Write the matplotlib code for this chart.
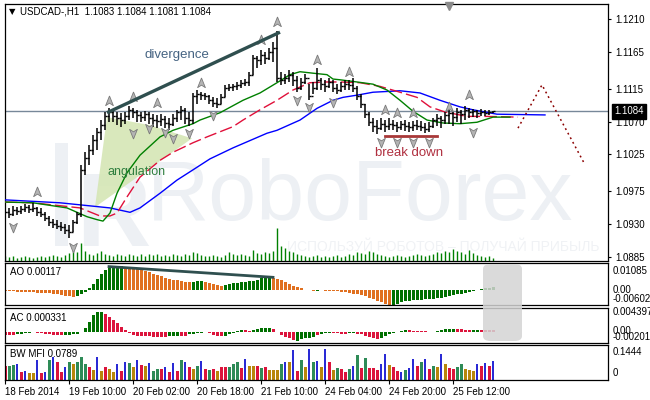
import numpy as np
import matplotlib.pyplot as plt
from matplotlib.patches import Polygon, FancyBboxPatch, Rectangle
from matplotlib.path import Path

plt.rcParams['font.family'] = ['Liberation Sans', 'DejaVu Sans']

W, H = 650, 400

# --- USDCAD H1 bars ---
highs = [
    1.0953, 1.0952, 1.0955, 1.0953, 1.0955, 1.0957, 1.0956, 1.0959, 1.0953, 1.0952,
    1.0946, 1.0941, 1.0937, 1.0936, 1.0933, 1.0930, 1.0929, 1.0936, 1.0946, 1.1011,
    1.1028, 1.1038, 1.1052, 1.1061, 1.1072, 1.1083, 1.1088, 1.1086, 1.1083, 1.1082,
    1.1083, 1.1091, 1.1088, 1.1086, 1.1083, 1.1084, 1.1083, 1.1080, 1.1079, 1.1080,
    1.1078, 1.1075, 1.1080, 1.1086, 1.1091, 1.1088, 1.1083, 1.1109, 1.1113, 1.1110,
    1.1109, 1.1106, 1.1103, 1.1102, 1.1108, 1.1120, 1.1121, 1.1121, 1.1124, 1.1127,
    1.1128, 1.1138, 1.1161, 1.1159, 1.1168, 1.1165, 1.1170, 1.1179, 1.1194, 1.1138,
    1.1135, 1.1140, 1.1138, 1.1132, 1.1129, 1.1135, 1.1121, 1.1124, 1.1143, 1.1129,
    1.1127, 1.1129, 1.1127, 1.1121, 1.1124, 1.1127, 1.1127, 1.1129, 1.1118, 1.1108,
    1.1094, 1.1083, 1.1075, 1.1072, 1.1075, 1.1072, 1.1075, 1.1072, 1.1069, 1.1071,
    1.1072, 1.1069, 1.1071, 1.1072, 1.1071, 1.1068, 1.1069, 1.1075, 1.1080, 1.1078,
    1.1083, 1.1086, 1.1083, 1.1088, 1.1086, 1.1091, 1.1088, 1.1087, 1.1086, 1.1087,
    1.1086, 1.1086, 1.1084]
lows = [
    1.0940, 1.0938, 1.0941, 1.0942, 1.0944, 1.0946, 1.0945, 1.0946, 1.0941, 1.0940,
    1.0934, 1.0927, 1.0925, 1.0923, 1.0920, 1.0916, 1.0911, 1.0919, 1.0930, 1.0940,
    1.0997, 1.1011, 1.1024, 1.1031, 1.1045, 1.1058, 1.1069, 1.1069, 1.1065, 1.1063,
    1.1067, 1.1072, 1.1075, 1.1069, 1.1069, 1.1071, 1.1067, 1.1063, 1.1061, 1.1064,
    1.1061, 1.1058, 1.1064, 1.1069, 1.1072, 1.1067, 1.1064, 1.1067, 1.1094, 1.1099,
    1.1099, 1.1094, 1.1090, 1.1088, 1.1094, 1.1103, 1.1112, 1.1112, 1.1113, 1.1116,
    1.1118, 1.1118, 1.1134, 1.1143, 1.1147, 1.1149, 1.1154, 1.1151, 1.1124, 1.1120,
    1.1121, 1.1124, 1.1118, 1.1110, 1.1113, 1.1121, 1.1099, 1.1108, 1.1113, 1.1113,
    1.1110, 1.1116, 1.1110, 1.1108, 1.1110, 1.1113, 1.1113, 1.1110, 1.1099, 1.1088,
    1.1075, 1.1064, 1.1056, 1.1053, 1.1058, 1.1056, 1.1058, 1.1058, 1.1056, 1.1058,
    1.1057, 1.1056, 1.1057, 1.1058, 1.1057, 1.1054, 1.1056, 1.1061, 1.1064, 1.1061,
    1.1067, 1.1067, 1.1064, 1.1069, 1.1067, 1.1072, 1.1075, 1.1076, 1.1075, 1.1078,
    1.1078, 1.1079, 1.1081]
closes = [
    1.0946, 1.0944, 1.0949, 1.0948, 1.0951, 1.0953, 1.0951, 1.0952, 1.0946, 1.0944,
    1.0938, 1.0933, 1.0930, 1.0927, 1.0926, 1.0922, 1.0919, 1.0933, 1.0944, 1.1004,
    1.1020, 1.1031, 1.1045, 1.1056, 1.1065, 1.1078, 1.1083, 1.1078, 1.1075, 1.1072,
    1.1078, 1.1086, 1.1083, 1.1079, 1.1076, 1.1080, 1.1075, 1.1072, 1.1071, 1.1073,
    1.1068, 1.1067, 1.1075, 1.1083, 1.1086, 1.1075, 1.1072, 1.1105, 1.1108, 1.1106,
    1.1105, 1.1099, 1.1095, 1.1094, 1.1103, 1.1116, 1.1117, 1.1118, 1.1120, 1.1123,
    1.1124, 1.1134, 1.1157, 1.1154, 1.1161, 1.1157, 1.1165, 1.1170, 1.1129, 1.1127,
    1.1129, 1.1134, 1.1127, 1.1116, 1.1124, 1.1129, 1.1105, 1.1116, 1.1127, 1.1121,
    1.1118, 1.1124, 1.1116, 1.1113, 1.1118, 1.1121, 1.1120, 1.1116, 1.1105, 1.1094,
    1.1080, 1.1069, 1.1064, 1.1061, 1.1067, 1.1064, 1.1067, 1.1065, 1.1063, 1.1067,
    1.1064, 1.1063, 1.1065, 1.1064, 1.1063, 1.1060, 1.1064, 1.1072, 1.1075, 1.1072,
    1.1079, 1.1082, 1.1076, 1.1083, 1.1080, 1.1086, 1.1083, 1.1084, 1.1082, 1.1083,
    1.1082, 1.1083, 1.1084]
first_open = 1.0950
last_price = 1.1084

volumes = [
    500, 400, 500, 300, 400, 500, 400, 300, 400, 500, 400, 500, 600, 500, 400, 600, 800, 1200, 900,
    1800, 1000, 700, 600, 800, 1000, 700, 600, 500, 700, 600, 500,
    700, 600, 500, 700, 500, 700, 600, 700, 500, 600, 500, 700, 600, 500, 700, 600, 900, 800, 600, 500,
    500, 600, 500, 400, 600, 900, 700, 600, 700, 600, 500, 1100, 800, 700, 900, 800, 1000,
    3300,
    1500, 1300, 1000, 900, 700, 600, 500, 400, 500, 600, 400, 500,
    400, 500, 600, 400, 500, 700, 600, 900, 800, 700, 1000, 900, 700, 600, 500, 400, 500, 600, 500, 400,
    500, 600, 700, 600, 500, 600, 700, 900, 800, 1000, 900, 1200, 1000, 900, 700, 1100, 800, 600, 500,
    400, 500, 300]

# Alligator lines (bar index, price)
jaw_x = [0, 13.75, 26.25, 31.25, 33.75, 38.75, 43, 47, 51.25, 57, 65.5, 68, 73.75, 78, 82,
         84.5, 88, 92, 98.75, 103.75, 108.75, 113.75, 117, 123, 135]
jaw_y = [1.0963, 1.0959, 1.0952, 1.0946, 1.0952, 1.0972, 1.0990, 1.1004, 1.1019, 1.1034,
         1.1054, 1.1058, 1.1072, 1.1088, 1.1099, 1.1103, 1.1106, 1.1110, 1.1112, 1.1109,
         1.1099, 1.1090, 1.1086, 1.1080, 1.1079]
teeth_x = [0, 7, 13.75, 18.75, 23.75, 26.25, 28, 30.5, 33.75, 38.75, 42, 47, 50.5, 57, 59.5,
           63.75, 68, 72, 76.25, 80.5, 83.75, 88.75, 93.75, 98.75, 103, 106.25, 110, 115.5,
           120.5, 128.25]
teeth_y = [1.0960, 1.0959, 1.0955, 1.0952, 1.0941, 1.0941, 1.0945, 1.0967, 1.0994, 1.1017,
           1.1028, 1.1041, 1.1049, 1.1063, 1.1072, 1.1086, 1.1099, 1.1113, 1.1123, 1.1124,
           1.1124, 1.1123, 1.1118, 1.1110, 1.1103, 1.1090, 1.1083, 1.1077, 1.1077, 1.1076]
lips_x = [0, 7, 15.5, 20.5, 23, 24.5, 26.25, 28, 30.5, 33.75, 38.75, 42, 47, 48.75, 53.75,
          59.5, 63.75, 68, 71.25, 73.75, 77, 80.5, 82, 83.75, 88, 92, 95.5, 98.75, 102,
          105.5, 109.5, 113.75, 118, 122, 126.25]
lips_y = [1.0960, 1.0959, 1.0952, 1.0940, 1.0936, 1.0934, 1.0945, 1.0972, 1.1000, 1.1024,
          1.1049, 1.1058, 1.1067, 1.1072, 1.1082, 1.1099, 1.1109, 1.1123, 1.1134, 1.1138,
          1.1136, 1.1134, 1.1128, 1.1127, 1.1124, 1.1121, 1.1113, 1.1099, 1.1084, 1.1072,
          1.1068, 1.1067, 1.1069, 1.1076, 1.1076]

# Fractals (bar index, arrow price)
frac_up_x = [8, 26, 32, 38, 49, 64, 68, 78, 86, 95, 98, 102, 111, 116]
frac_up_y = [1.0974, 1.1098, 1.1103, 1.1095, 1.1123, 1.1181, 1.1206, 1.1154, 1.1138,
             1.1086, 1.1082, 1.1082, 1.1090, 1.1106]
frac_dn_x = [2, 17, 32, 36, 40, 42, 46, 52, 73, 76, 82, 94, 98, 102, 106, 117]
frac_dn_y = [1.0926, 1.0899, 1.1054, 1.1061, 1.1056, 1.1048, 1.1054, 1.1079, 1.1099,
             1.1090, 1.1097, 1.1042, 1.1042, 1.1042, 1.1042, 1.1056]

# Awesome Oscillator
ao = [
    -0.0004, -0.0004, -0.0005, -0.0007, -0.0008, -0.0008, -0.0009, -0.0009, -0.0011, -0.0011,
    -0.0012, -0.0013, -0.0016, -0.0017, -0.0020, -0.0023, -0.0025, -0.0028, -0.0023, -0.0017,
    -0.0007, 0.0007, 0.0023, 0.0044, 0.0063, 0.0080, 0.0090, 0.0094, 0.0095, 0.0095,
    0.0092, 0.0090, 0.0088, 0.0086, 0.0082, 0.0078, 0.0071, 0.0066, 0.0060, 0.0055,
    0.0050, 0.0044, 0.0042, 0.0039, 0.0036, 0.0034, 0.0031, 0.0034, 0.0036, 0.0036,
    0.0034, 0.0028, 0.0024, 0.0020, 0.0017, 0.0020, 0.0024, 0.0027, 0.0029, 0.0031,
    0.0032, 0.0035, 0.0038, 0.0042, 0.0047, 0.0050, 0.0050, 0.0047, 0.0044, 0.0039,
    0.0031, 0.0023, 0.0017, 0.0012, 0.0007, 0.0001, -0.0001, -0.0003, -0.0004, -0.0001,
    -0.0003, -0.0004, -0.0004, -0.0005, -0.0007, -0.0009, -0.0012, -0.0015, -0.0017, -0.0021,
    -0.0025, -0.0031, -0.0036, -0.0043, -0.0050, -0.0055, -0.0059, -0.0060, -0.0055, -0.0050,
    -0.0046, -0.0043, -0.0042, -0.0040, -0.0039, -0.0038, -0.0036, -0.0035, -0.0034, -0.0031,
    -0.0028, -0.0025, -0.0021, -0.0017, -0.0015, -0.0012, -0.0008, -0.0005, -0.0001, 0.0004,
    0.0007, 0.0008, 0.00117]
ao_colors = ("oooooooooooooooooo" "gggggggggggg" "ooooooooooooooooo" "ggg" "ooooo"
             "gggggggggggg" "ooooooooo" "gogo" "ooooooooooooooooo" "gggggggggggggggggggggggggg")

# Accelerator Oscillator
ac = [
    -0.00055, -0.00055, -0.00055, -0.00043, -0.00031, -0.00018, -0.00012, -0.00006, -0.00012, -0.00018,
    -0.00031, -0.00037, -0.00055, -0.00055, -0.00061, -0.00055, -0.00049, -0.00043, -0.00031, -0.00006,
    0.00079, 0.00189, 0.00311, 0.00360, 0.00372, 0.00336, 0.00281, 0.00220, 0.00159, 0.00098,
    0.00037, -0.00024, -0.00055, -0.00067, -0.00067, -0.00073, -0.00079, -0.00085, -0.00092, -0.00092,
    -0.00092, -0.00079, -0.00079, -0.00073, -0.00079, -0.00079, -0.00043, -0.00031, -0.00018, -0.00012,
    -0.00006, -0.00018, -0.00055, -0.00073, -0.00079, -0.00073, -0.00043, -0.00012, 0.00018, 0.00043,
    0.00037, 0.00018, 0.00037, 0.00055, 0.00067, 0.00067, 0.00067, 0.00055, 0.00006, -0.00055,
    -0.00085, -0.00116, -0.00146, -0.00165, -0.00128, -0.00116, -0.00104, -0.00085, -0.00055, -0.00031,
    -0.00018, -0.00012, -0.00018, -0.00024, -0.00031, -0.00031, -0.00024, -0.00018, -0.00031, -0.00043,
    -0.00067, -0.00092, -0.00116, -0.00128, -0.00104, -0.00067, -0.00037, -0.00012, 0.00006, 0.00018,
    0.00031, 0.00028, 0.00025, 0.00022, 0.00018, 0.00012, 0.00006, 0.00003, 0.00018, 0.00031,
    0.00055, 0.00061, 0.00064, 0.00055, 0.00049, 0.00043, 0.00040, 0.00043, 0.00046, 0.00037,
    0.00034, 0.00036, 0.000331]
ac_colors = ("rrrggggrrrrrrrrggggggggggrrrrrrrrrrrrrrrrgggrrggggrrrrrgggggrrgggggrrrrrrgggggrgg"
             "grrrrggrrrrrrgggggggrrrrrrrgggggrrrrggrrrr")

# Market Facilitation Index
mfi = [
    0.059, 0.059, 0.062, 0.067, 0.034, 0.038, 0.028, 0.028, 0.084, 0.028,
    0.031, 0.081, 0.095, 0.074, 0.031, 0.052, 0.074, 0.067, 0.074, 0.095,
    0.067, 0.055, 0.042, 0.095, 0.038, 0.052, 0.045, 0.031, 0.067, 0.038,
    0.074, 0.071, 0.052, 0.081, 0.062, 0.057, 0.070, 0.038, 0.045, 0.045,
    0.052, 0.034, 0.070, 0.038, 0.081, 0.074, 0.052, 0.045, 0.059, 0.079,
    0.045, 0.040, 0.045, 0.038, 0.052, 0.052, 0.052, 0.067, 0.076, 0.048,
    0.088, 0.059, 0.059, 0.059, 0.048, 0.052, 0.042, 0.042, 0.042, 0.067,
    0.074, 0.074, 0.123, 0.038, 0.081, 0.055, 0.126, 0.074, 0.080, 0.055,
    0.126, 0.076, 0.042, 0.051, 0.045, 0.034, 0.045, 0.059, 0.102, 0.051,
    0.091, 0.051, 0.051, 0.040, 0.066, 0.106, 0.062, 0.055, 0.037, 0.034,
    0.042, 0.051, 0.085, 0.059, 0.076, 0.088, 0.045, 0.059, 0.052, 0.106,
    0.064, 0.051, 0.045, 0.055, 0.066, 0.045, 0.041, 0.038, 0.068, 0.059,
    0.072, 0.059, 0.0789]
mfi_colors = ("rggbrbyybr" "bgbrrbgygg" "grybyryybr" "bgybrybggr" "brbrgbrygb" "rgryrrgggr"
              "byyrgryyyg" "bybrgybgby" "brygrrgbgr" "grrrbbyrrb" "gbbrgbrgyb" "yrrggyyybr" "brb")

price_ticks = [1.1210, 1.1165, 1.1115, 1.1070, 1.1025, 1.0975, 1.0930, 1.0885]
time_pos = [0, 16, 32, 48, 64, 80, 96, 112]
time_labels = ['18 Feb 2014', '19 Feb 10:00', '20 Feb 02:00', '20 Feb 18:00',
               '21 Feb 10:00', '24 Feb 04:00', '24 Feb 20:00', '25 Feb 12:00']

XMAX = 150.75
WM = '#edf0f4'   # watermark colour
idx = np.arange(len(closes))
opens = [first_open] + closes[:-1]

fig = plt.figure(figsize=(6.5, 4), dpi=100)


def panel(x0, y0, x1, y1, face='white'):
    ax = fig.add_axes([x0 / W, 1 - y1 / H, (x1 - x0) / W, (y1 - y0) / H], facecolor=face)
    ax.set_xlim(0, XMAX)
    for s in ax.spines.values():
        s.set_linewidth(0.9)
    ax.tick_params(left=False, labelleft=False, bottom=False, labelbottom=False,
                   right=False, labelright=False)
    return ax


def side_label(ax, text, yval, down):
    # label on the right edge, shifted 'down' pixels below the value
    ax.annotate(text, xy=(1, yval), xycoords=('axes fraction', 'data'),
                xytext=(5, -down), textcoords='offset pixels', fontsize=7,
                va='center', ha='left', annotation_clip=False)


# ---------- main window ----------
bg = panel(5, 4, 608, 261)
bg.set_ylim(0, 25700)
bg.axis('off')
bg.set_zorder(0)
bg.text(0.235, 0.16, 'RoboForex', transform=bg.transAxes, fontsize=62,
        color=WM, ha='left', va='baseline')
bg.text(0.118, 0.06, 'R', transform=bg.transAxes, fontsize=74, fontweight='bold',
        color=WM, ha='left', va='baseline')
bg.add_patch(Rectangle((0.083, 0.06), 0.022, 0.40, transform=bg.transAxes,
                       color=WM, lw=0))
bg.text(0.726, 0.055, 'ИСПОЛЬЗУЙ РОБОТОВ – ПОЛУЧАЙ ПРИБЫЛЬ', transform=bg.transAxes,
        fontsize=10, color='#f0f2f5', ha='center', va='center')
bg.vlines(idx, 0, volumes, color='#008000', lw=1)

ax = panel(5, 4, 608, 261, face='none')
ax.set_zorder(1)
ax.set_ylim(1.08795, 1.12305)

# angulation wedge
ax.add_patch(Polygon([(22.5, 1.0953), (25.5, 1.1076), (36.25, 1.1065), (46.75, 1.1047)],
                     closed=True, facecolor='#d5e6b5', edgecolor='none', alpha=0.9, zorder=1))

ax.axhline(last_price, color='#778899', lw=1, zorder=2)

ax.plot(jaw_x, jaw_y, color='#0000ff', lw=1, zorder=3)
ax.plot(teeth_x, teeth_y, color='#e0103a', lw=1, dashes=(9, 3), zorder=3)
ax.plot(lips_x, lips_y, color='#008000', lw=1, zorder=3)

ax.vlines(idx, lows, highs, color='black', lw=1.1, zorder=4)
ax.hlines(opens, idx - 0.5, idx, color='black', lw=1, zorder=4)
ax.hlines(closes, idx, idx + 0.5, color='black', lw=1, zorder=4)

arrow_up = Path([(0, 1), (0.7, -0.75), (0, -0.3), (-0.7, -0.75), (0, 1)])
arrow_dn = Path([(0, -1), (0.7, 0.75), (0, 0.3), (-0.7, 0.75), (0, -1)])
ax.plot(frac_up_x, frac_up_y, ls='none', marker=arrow_up, ms=8, mfc='#b4b4b4',
        mec='#7a7a7a', mew=0.6, zorder=5)
ax.plot(frac_dn_x, frac_dn_y, ls='none', marker=arrow_dn, ms=8, mfc='#b4b4b4',
        mec='#7a7a7a', mew=0.6, zorder=5)

# chart shift marker at the top
ax.plot([111], [1.1228], marker='v', ms=6, color='#8a8a8a', zorder=6, clip_on=False)

# analysis drawings
ax.plot([25.5, 68.75], [1.1082, 1.1192], color='#2f4f4f', lw=2.4, zorder=6,
        solid_capstyle='butt')
ax.plot([95, 108], [1.1050, 1.1050], color='#a83838', lw=2, zorder=6)
ax.plot([128.25, 134.25, 145], [1.1061, 1.1120, 1.1011], color='#8b0000', lw=1.1,
        ls=(0, (1.2, 2.2)), zorder=6)
ax.text(43, 1.1161, 'divergence', fontsize=9.5, color='#456382', ha='center', va='center', zorder=7)
ax.text(33, 1.1001, 'angulation', fontsize=9, color='#2f7f3f', ha='center', va='center', zorder=7)
ax.text(101, 1.1027, 'break down', fontsize=9.5, color='#b03040', ha='center', va='center', zorder=7)

ax.yaxis.tick_right()
ax.set_yticks(price_ticks)
ax.set_yticklabels(['%.4f' % v for v in price_ticks])
ax.tick_params(right=True, labelright=True, labelsize=7, length=2.5, width=0.8, pad=2.5)
ax.annotate('%.4f' % last_price, xy=(1, last_price), xycoords=('axes fraction', 'data'),
            xytext=(6, 0), textcoords='offset pixels', fontsize=7, color='white',
            va='center', ha='left', annotation_clip=False, zorder=8,
            bbox=dict(boxstyle='square,pad=0.25', fc='black', ec='black'))

fig.text(9 / W, 1 - 12 / H, '▼', fontsize=6, va='center', ha='left', family='DejaVu Sans')
fig.text(20 / W, 1 - 12 / H, 'USDCAD-,H1  1.1083 1.1084 1.1081 1.1084', fontsize=7,
         va='center', ha='left')

# ---------- AO ----------
ao_ax = panel(5, 263, 608, 305)
ao_ax.set_ylim(-0.00602, 0.01085)
ao_ax.bar(idx, ao, width=0.75, color=['#e07020' if c == 'o' else '#007000' for c in ao_colors],
          linewidth=0)
ao_ax.plot([26, 67], [0.0094, 0.0051], color='#2f4f4f', lw=2, zorder=4)
side_label(ao_ax, '0.01085', 0.01085, 8)
side_label(ao_ax, '0.00', 0.0, 0)
side_label(ao_ax, '-0.00602', -0.00602, -6)
fig.text(10 / W, 1 - 272 / H, 'AO 0.00117', fontsize=7, va='center')

# ---------- AC ----------
ac_ax = panel(5, 308, 608, 343)
ac_ax.set_ylim(-0.00201, 0.004397)
ac_ax.bar(idx, ac, width=0.75, color=['#dc143c' if c == 'r' else '#007000' for c in ac_colors],
          linewidth=0)
side_label(ac_ax, '0.004397', 0.004397, 4)
side_label(ac_ax, '0.00', 0.0, -1)
side_label(ac_ax, '-0.00201', -0.00201, -6)
fig.text(10 / W, 1 - 318 / H, 'AC 0.000331', fontsize=7, va='center')

# ---------- BW MFI ----------
mfi_ax = panel(5, 345, 608, 380)
mfi_ax.set_ylim(0, 0.1444)
mfi_cmap = {'g': '#2e8b57', 'r': '#dc143c', 'y': '#b8860b', 'b': '#0000cd'}
for i, (v, c) in enumerate(zip(mfi, mfi_colors)):
    if c == 'b':
        mfi_ax.vlines(i, 0, v, color=mfi_cmap[c], lw=1.2)
    else:
        mfi_ax.bar(i, v, width=0.75, color=mfi_cmap[c], linewidth=0)
side_label(mfi_ax, '0.1444', 0.1444, 7)
side_label(mfi_ax, '0', 0.0, -7)
fig.text(10 / W, 1 - 354 / H, 'BW MFI 0.0789', fontsize=7, va='center')

mfi_ax.set_xticks(time_pos)
mfi_ax.set_xticklabels(time_labels, ha='left')
mfi_ax.tick_params(bottom=True, labelbottom=True, labelsize=7, length=3, width=0.8, pad=2)

# grey box over the oscillator windows
fig.add_artist(FancyBboxPatch((483 / W, 1 - 341 / H), 39 / W, 77 / H,
                              boxstyle='round,pad=0,rounding_size=0.012',
                              transform=fig.transFigure, fc='#d4d4d4', ec='none',
                              alpha=0.85, zorder=10))

fig.savefig('out.png', dpi=100)
